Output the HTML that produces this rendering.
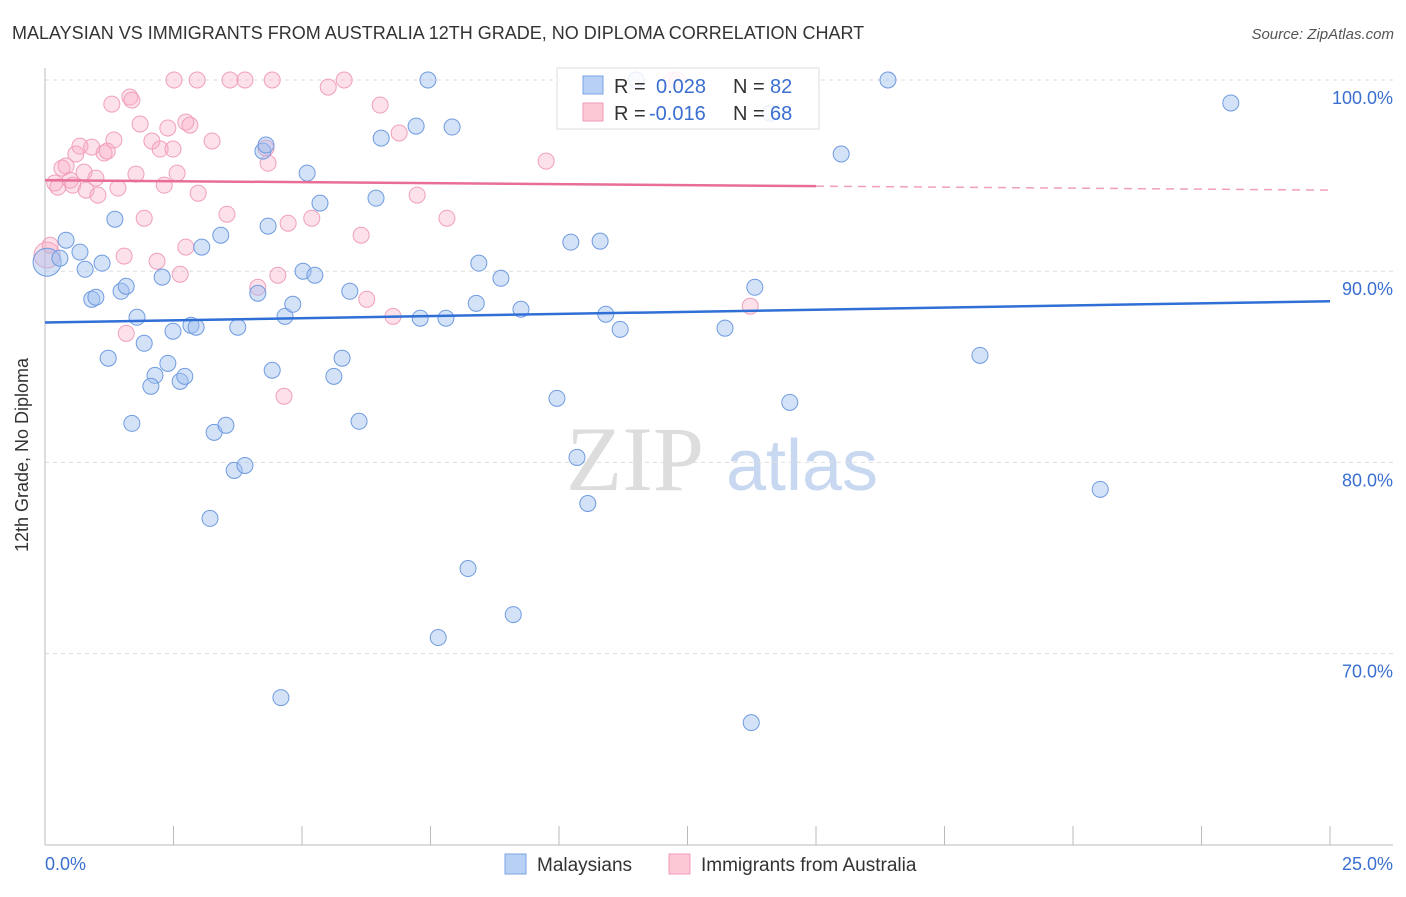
<!DOCTYPE html>
<html><head><meta charset="utf-8"><style>
body{margin:0;background:#fff;font-family:"Liberation Sans",sans-serif;}
</style></head><body>
<svg id="chart" width="1406" height="892" xmlns="http://www.w3.org/2000/svg">
<text x="12" y="39" font-size="18" fill="#333">MALAYSIAN VS IMMIGRANTS FROM AUSTRALIA 12TH GRADE, NO DIPLOMA CORRELATION CHART</text>
<text x="1394" y="39" font-size="15" fill="#555" font-style="italic" text-anchor="end">Source: ZipAtlas.com</text>
<text x="28" y="455" font-size="18" fill="#333" text-anchor="middle" transform="rotate(-90 28 455)">12th Grade, No Diploma</text>
<g><text x="635" y="490" font-size="92" font-family="Liberation Serif,serif" fill="#ddd" text-anchor="middle">ZIP</text><text x="802" y="490" font-size="72" fill="#c8d8f0" text-anchor="middle">atlas</text></g>
<g id="grid"></g><g id="axes"></g><g id="pts"></g><g id="lines"></g>
<g>
<rect x="557" y="68" width="262" height="61" fill="#fff" fill-opacity="0.85" stroke="#ddd"/>
<rect x="583" y="76" width="20" height="18" fill="#b8d0f4" stroke="#7aa3e5"/>
<rect x="583" y="103" width="20" height="18" fill="#fcc8d6" stroke="#f09ab5"/>
<text x="614" y="93" font-size="20" fill="#333">R = </text><text x="656" y="93" font-size="20" fill="#3a6fd0">0.028</text>
<text x="733" y="93" font-size="20" fill="#333">N = </text><text x="770" y="93" font-size="20" fill="#3a6fd0">82</text>
<text x="614" y="120" font-size="20" fill="#333">R = </text><text x="649" y="120" font-size="20" fill="#3a6fd0">-0.016</text>
<text x="733" y="120" font-size="20" fill="#333">N = </text><text x="770" y="120" font-size="20" fill="#3a6fd0">68</text>
</g>
<g>
<rect x="505" y="854" width="21" height="20" fill="#b8d0f4" stroke="#7aa3e5"/>
<text x="537" y="871" font-size="19" fill="#333">Malaysians</text>
<rect x="669" y="854" width="21" height="20" fill="#fcc8d6" stroke="#f09ab5"/>
<text x="701" y="871" font-size="19" fill="#333">Immigrants from Australia</text>
</g>
</svg>
<script>
const yTicks=[100,90,80,70];
const xTickLabels=["0.0%","25.0%"];
const blueX=[7.45,11.5,16.4,23.07,0.04,0.41,0.68,0.29,0.78,1.11,1.36,0.91,0.99,1.48,1.58,1.23,1.79,1.93,1.69,2.14,2.06,2.28,2.39,2.49,2.63,2.72,2.84,2.94,3.05,3.21,3.29,3.42,3.52,3.68,3.75,3.89,4.14,4.24,4.3,4.34,4.42,4.59,4.67,4.82,5.02,5.1,5.25,5.35,5.62,5.78,5.93,6.11,6.44,6.54,7.22,7.3,7.65,7.8,7.92,8.23,8.44,8.39,8.87,9.11,9.26,9.96,10.23,10.35,10.56,10.8,10.91,11.19,13.23,13.74,13.81,14.49,15.49,18.19,20.53,14.11];
const blueY=[100,100,100,98.8,90.47,91.62,91.0,90.68,90.1,90.42,92.72,88.53,88.64,88.95,89.21,85.45,87.59,86.23,82.04,84.55,83.98,89.69,85.18,86.86,84.24,84.5,87.17,87.07,91.26,77.07,81.57,91.88,81.94,79.58,87.07,79.84,88.85,96.28,96.6,92.36,84.82,67.7,87.64,88.27,90.0,95.13,89.79,93.56,84.5,85.45,88.95,82.15,93.82,96.96,97.59,87.54,70.84,87.54,97.54,74.45,90.42,88.32,89.63,72.04,88.01,83.35,91.52,80.26,77.85,91.57,87.75,86.96,87.02,66.39,89.16,83.14,96.13,85.6,78.59,98.27];
const pinkX=[0.04,0.1,0.19,0.25,0.33,0.41,0.49,0.54,0.6,0.68,0.76,0.8,0.91,0.99,1.03,1.15,1.21,1.3,1.34,1.42,1.54,1.58,1.65,1.69,1.77,1.85,1.93,2.08,2.18,2.24,2.32,2.39,2.49,2.57,2.63,2.51,2.74,2.74,2.82,2.96,2.98,3.25,3.54,3.6,3.89,4.3,4.34,4.42,4.53,4.14,4.65,4.73,5.19,5.51,5.82,6.15,6.26,6.52,6.77,6.89,7.24,7.82,9.75,13.72,12.3,12.2];
const pinkY=[90.84,91.36,94.61,94.4,95.39,95.5,94.76,94.5,96.13,96.54,95.18,94.24,96.49,94.87,93.98,96.18,96.28,98.74,96.86,94.35,90.79,86.75,99.11,98.95,95.08,97.7,92.77,96.81,90.52,96.39,94.5,97.49,96.39,95.13,89.84,100,91.26,97.8,97.64,100,94.08,96.81,92.98,100,100,96.44,95.65,100,89.79,89.16,83.46,92.51,92.77,99.63,100,91.88,88.53,98.69,87.64,97.23,93.98,92.77,95.76,88.17,100,100];
const blueTrend=[87.32,88.43];
const pinkTrend=[94.76,94.24];
const NS="http://www.w3.org/2000/svg";
const X0=45,X1=1330,Y100=80,PX10=191.2;
const xs=v=>X0+(X1-X0)*v/25;
const ys=v=>Y100+(100-v)*PX10/10;
function mk(tag,attrs,parent){const e=document.createElementNS(NS,tag);for(const k in attrs)e.setAttribute(k,attrs[k]);document.getElementById(parent).appendChild(e);return e;}
yTicks.forEach(t=>{
 const l=mk('line',{x1:X0,x2:1393,y1:ys(t),y2:ys(t),stroke:'#ddd','stroke-dasharray':'4,4'},'grid');
 
 
 const tx=mk('text',{x:1393,y:ys(t)+24,'font-size':18,fill:'#3a6fd0','text-anchor':'end'},'grid');
 tx.textContent=t.toFixed(1)+'%';
 
 
});
const ax=mk('line',{x1:X0,x2:1393,y1:845,y2:845,stroke:'#bbb'},'axes');


const ay=mk('line',{x1:X0,x2:X0,y1:68,y2:845,stroke:'#bbb'},'axes');


for(let i=1;i<=10;i++){const v=i*2.5;const t=mk('line',{x1:xs(v),x2:xs(v),y1:826,y2:845,stroke:'#bbb'},'axes');
 
 }
const l0=mk('text',{x:45,y:870,'font-size':18,fill:'#3a6fd0'},'axes');l0.textContent=xTickLabels[0];


const l1=mk('text',{x:1393,y:870,'font-size':18,fill:'#3a6fd0','text-anchor':'end'},'axes');l1.textContent=xTickLabels[1];


pinkX.forEach((x,i)=>{const c=mk('circle',{cx:xs(x),cy:ys(pinkY[i]),r:i===0?13:8,fill:'rgba(248,170,195,0.35)',stroke:'#f0a0bb','stroke-width':1},'pts');
 
 });
blueX.forEach((x,i)=>{const c=mk('circle',{cx:xs(x),cy:ys(blueY[i]),r:i===4?14:8,fill:'rgba(160,190,240,0.45)',stroke:'#6f9be0','stroke-width':1},'pts');
 
 });
const bl=mk('line',{x1:xs(0),y1:ys(blueTrend[0]),x2:xs(25),y2:ys(blueTrend[1]),stroke:'#2f6fd6','stroke-width':2.5},'lines');


const pm=pinkTrend[0]+(pinkTrend[1]-pinkTrend[0])*15/25;
const pl=mk('line',{x1:xs(0),y1:ys(pinkTrend[0]),x2:xs(15),y2:ys(pm),stroke:'#e86d97','stroke-width':2.5},'lines');


const pd=mk('line',{x1:xs(15),y1:ys(pm),x2:xs(25),y2:ys(pinkTrend[1]),stroke:'#f0a0bb','stroke-width':1.5,'stroke-dasharray':'8,6'},'lines');


</script>
</body></html>
